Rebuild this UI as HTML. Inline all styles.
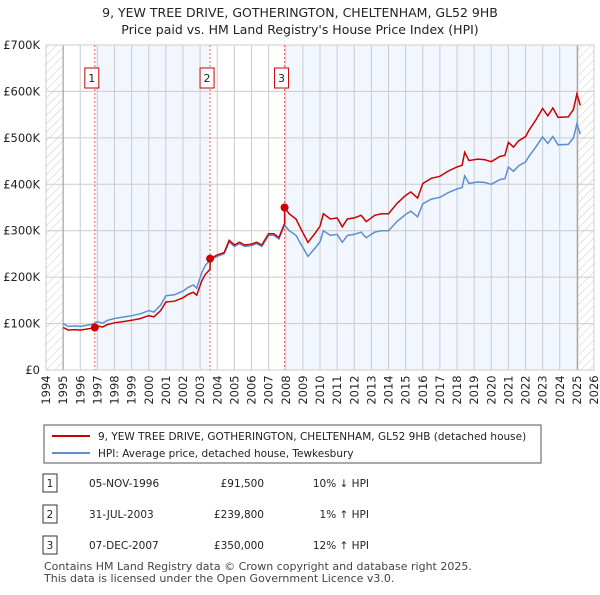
<!DOCTYPE html>
<html><head><meta charset="utf-8"><style>
body{margin:0;background:#fff;font-family:"Liberation Sans","DejaVu Sans",sans-serif;}
svg text{font-family:"DejaVu Sans","Liberation Sans",sans-serif;}
</style></head><body>
<svg id="c" width="600" height="590" viewBox="0 0 600 590" xmlns="http://www.w3.org/2000/svg">
<defs><pattern id="hatch" width="6" height="6" patternUnits="userSpaceOnUse" patternTransform="rotate(45)"><line x1="0" y1="0" x2="0" y2="6" stroke="#ccc" stroke-width="1"/></pattern></defs>
<text x="300" y="17" text-anchor="middle" font-size="12.5" fill="#222">9, YEW TREE DRIVE, GOTHERINGTON, CHELTENHAM, GL52 9HB</text>
<text x="300" y="34" text-anchor="middle" font-size="12.5" fill="#222">Price paid vs. HM Land Registry's House Price Index (HPI)</text>
<g id="plot"></g>
<g id="legend">
<rect x="44" y="425" width="497" height="38" fill="#fff" stroke="#555"/>
<line x1="52" y1="436" x2="90" y2="436" stroke="#cc0000" stroke-width="2"/>
<text x="98" y="440" font-size="10.5" fill="#222">9, YEW TREE DRIVE, GOTHERINGTON, CHELTENHAM, GL52 9HB (detached house)</text>
<line x1="52" y1="453" x2="90" y2="453" stroke="#5b8fd4" stroke-width="2"/>
<text x="98" y="457" font-size="10.5" fill="#222">HPI: Average price, detached house, Tewkesbury</text>
</g>
<g id="table" font-size="10.5" fill="#222"></g>
<text x="44" y="570" font-size="11" fill="#444">Contains HM Land Registry data © Crown copyright and database right 2025.</text>
<text x="44" y="582" font-size="11" fill="#444">This data is licensed under the Open Government Licence v3.0.</text>
</svg>
<script>
const hpiYears=[1995.0,1995.3,1995.7,1996.0,1996.5,1996.85,1997.0,1997.3,1997.6,1998.0,1998.5,1999.0,1999.5,2000.0,2000.3,2000.7,2001.0,2001.5,2002.0,2002.3,2002.6,2002.8,2003.1,2003.3,2003.58,2004.0,2004.4,2004.7,2005.0,2005.3,2005.6,2006.0,2006.3,2006.6,2007.0,2007.3,2007.6,2007.93,2008.2,2008.6,2008.9,2009.3,2009.7,2010.0,2010.2,2010.6,2011.0,2011.3,2011.6,2012.0,2012.4,2012.7,2013.2,2013.6,2014.0,2014.5,2015.0,2015.3,2015.7,2016.0,2016.5,2017.0,2017.5,2018.0,2018.3,2018.45,2018.7,2019.2,2019.6,2020.0,2020.5,2020.8,2021.0,2021.3,2021.6,2022.0,2022.2,2022.6,2023.0,2023.3,2023.6,2023.9,2024.5,2024.8,2025.0,2025.2];
const hpiValues=[100,94,95,94,97,100,104,101,107,111,114,117,121,128,125,140,160,162,170,178,183,176,210,225,237,245,250,276,266,272,266,268,272,266,290,290,282,312,300,290,270,245,262,276,300,290,292,275,290,292,297,285,297,300,300,320,335,342,330,358,368,372,382,390,393,418,402,405,404,400,410,412,437,428,440,448,460,480,502,488,503,485,486,500,530,508];
const saleLabels=["1","2","3"];
const saleYears=[1996.85,2003.58,2007.93];
const salePrices=[91.5,239.8,350.0];
const saleDates=["05-NOV-1996","31-JUL-2003","07-DEC-2007"];
const salePriceText=["£91,500","£239,800","£350,000"];
const saleHpiText=["10% ↓ HPI","1% ↑ HPI","12% ↑ HPI"];
const yTicks=[0,100,200,300,400,500,600,700];
const yTickLabels=["£0","£100K","£200K","£300K","£400K","£500K","£600K","£700K"];
const xTicks=[1994,1995,1996,1997,1998,1999,2000,2001,2002,2003,2004,2005,2006,2007,2008,2009,2010,2011,2012,2013,2014,2015,2016,2017,2018,2019,2020,2021,2022,2023,2024,2025,2026];

const L=46,R=594,T=45,B=370;
const X=y=>L+(y-1994)*(R-L)/32;
const Y=v=>B-v*(B-T)/700;
const NS="http://www.w3.org/2000/svg";
const plot=document.getElementById('plot');
function mk(tag,attrs,parent){const e=document.createElementNS(NS,tag);for(const k in attrs)e.setAttribute(k,attrs[k]);(parent||plot).appendChild(e);return e;}
function hpiAt(y){for(let i=1;i<hpiYears.length;i++){if(y<=hpiYears[i]){const t=(y-hpiYears[i-1])/(hpiYears[i]-hpiYears[i-1]);return hpiValues[i-1]+t*(hpiValues[i]-hpiValues[i-1]);}}return hpiValues[hpiValues.length-1];}

let e;
e=mk('rect',{x:L,y:T,width:R-L,height:B-T,fill:'#fff'});


e=mk('rect',{x:X(saleYears[0]),y:T,width:X(saleYears[1])-X(saleYears[0]),height:B-T,fill:'#f2f6fe'});


e=mk('rect',{x:X(saleYears[2]),y:T,width:X(2025.05)-X(saleYears[2]),height:B-T,fill:'#f2f6fe'});


e=mk('rect',{x:L,y:T,width:X(1995)-L,height:B-T,fill:'url(#hatch)'});


e=mk('rect',{x:X(2025.05),y:T,width:R-X(2025.05),height:B-T,fill:'url(#hatch)'});


xTicks.forEach((yr,i)=>{
  const g=mk('line',{x1:X(yr),x2:X(yr),y1:T,y2:B,stroke:'#ccc','stroke-width':1});
  
  
  const t=mk('text',{x:0,y:0,transform:`translate(${X(yr)+4},${B+20}) rotate(-90)`,'font-size':11.5,fill:'#222','text-anchor':'middle'});
  t.textContent=yr;
  
  
});
yTicks.forEach((v,i)=>{
  const g=mk('line',{x1:L,x2:R,y1:Y(v),y2:Y(v),stroke:'#ccc','stroke-width':1});
  
  
  const t=mk('text',{x:40,y:Y(v)+4,'font-size':11.5,fill:'#222','text-anchor':'end'});
  t.textContent=yTickLabels[i];
  
  
});
e=mk('line',{x1:X(1995),x2:X(1995),y1:T,y2:B,stroke:'#999'});


e=mk('line',{x1:X(2025.05),x2:X(2025.05),y1:T,y2:B,stroke:'#999'});


e=mk('rect',{x:L,y:T,width:R-L,height:B-T,fill:'none',stroke:'#ccc'});


saleYears.forEach((sy,i)=>{
  const l=mk('line',{x1:X(sy),x2:X(sy),y1:T,y2:B,stroke:'#f06060','stroke-dasharray':'2,2'});
  
  
  const r=mk('rect',{x:X(sy)-10,y:68,width:14,height:20,fill:'#fff',stroke:'#cc0000'});
  
  
  const t=mk('text',{x:X(sy)-3,y:82,'font-size':11,fill:'#222','text-anchor':'middle'});
  t.textContent=saleLabels[i];
  
  
});
let d=hpiYears.map((y,i)=>(i?'L':'M')+X(y).toFixed(1)+','+Y(hpiValues[i]).toFixed(1)).join('');
e=mk('path',{d:d,fill:'none',stroke:'#5b8fd4','stroke-width':1.5});


const ratios=saleYears.map((sy,i)=>salePrices[i]/hpiAt(sy));
function ratioAt(y){let k=0;for(let i=0;i<saleYears.length;i++)if(y>=saleYears[i])k=i;return ratios[k];}
let pts=[];
hpiYears.forEach((y,i)=>{
  saleYears.forEach((sy,k)=>{ if(i>0&&sy>hpiYears[i-1]&&sy<=y){ if(k>0)pts.push([sy,hpiAt(sy)*ratios[k-1]]); pts.push([sy,salePrices[k]]);} });
  pts.push([y,hpiValues[i]*ratioAt(y)]);
});
d=pts.map((p,i)=>(i?'L':'M')+X(p[0]).toFixed(1)+','+Y(p[1]).toFixed(1)).join('');
e=mk('path',{d:d,fill:'none',stroke:'#cc0000','stroke-width':1.5});


saleYears.forEach((sy,i)=>{
  const c=mk('circle',{cx:X(sy),cy:Y(salePrices[i]),r:4,fill:'#cc0000'});
  
  
});
const tb=document.getElementById('table');
const rowY=[483,514,545];
saleLabels.forEach((lab,i)=>{
  const r=mk('rect',{x:43,y:rowY[i]-9,width:14,height:18,fill:'#fff',stroke:'#333'},tb);
  
  
  const cells=[[50,lab,'middle'],[89,saleDates[i],'start'],[264,salePriceText[i],'end'],[369,saleHpiText[i],'end']];
  cells.forEach(c=>{
    const t=mk('text',{x:c[0],y:rowY[i]+4,'text-anchor':c[2]},tb);
    t.textContent=c[1];
    
    
  });
});
</script>
</body></html>
